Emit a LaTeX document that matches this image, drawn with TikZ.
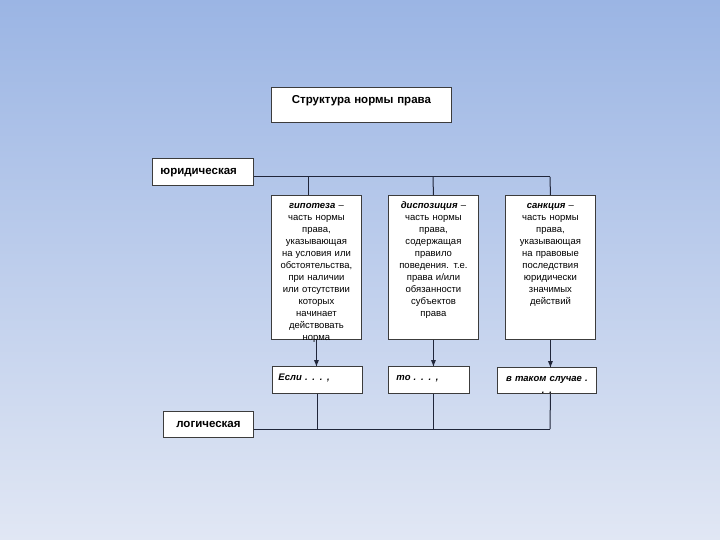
\documentclass[tikz,border=0pt]{standalone}
\usepackage{fontspec}
\setmainfont{Liberation Sans}
\definecolor{bgtop}{HTML}{9BB5E4}
\definecolor{bgmid}{HTML}{BDCDEB}
\definecolor{bgbot}{HTML}{E1E7F4}
\definecolor{boxgray}{HTML}{3C3C3C}
\definecolor{linedark}{HTML}{20263A}
\begin{document}
\begin{tikzpicture}[x=1pt,y=1pt]
\tikzstyle{every node}+=[inner sep=0pt, font=\fontsize{9.5}{12}\selectfont]
\tikzstyle{box}=[draw=boxgray, fill=white, line width=0.9pt, anchor=north west]
\tikzstyle{tallbox}=[box, text width=84, inner xsep=3, align=center, text height=13, text depth=131]
\tikzstyle{label}=[box, font=\fontsize{11.5}{12}\selectfont\bfseries]
\tikzstyle{wire}=[linedark, line width=1pt]
\useasboundingbox (0,0) rectangle (720,-540);
\shade [top color=bgtop, middle color=bgmid, bottom color=bgbot] (0,0) rectangle (720,-540);
% upper level
\node [label, text width=180, align=center, text height=16, text depth=19] (title) at (271,-87) {Структура нормы права};
\node [label, text width=85, inner xsep=8, align=left, text height=16, text depth=11] (yur) at (152,-158) {юридическая};
\node [tallbox] (hyp) at (271,-195) {\textbf{\textit{гипотеза}} –\\часть нормы\\права,\\указывающая\\на условия или\\обстоятельства,\\при наличии\\или отсутствии\\которых\\начинает\\действовать\\норма};
\node [tallbox] (dis) at (388,-195) {\textbf{\textit{диспозиция}} –\\часть нормы\\права,\\содержащая\\правило\\поведения. т.е.\\права и/или\\обязанности\\субъектов\\права};
\node [tallbox] (san) at (505,-195) {\textbf{\textit{санкция}} –\\часть нормы\\права,\\указывающая\\на правовые\\последствия\\юридически\\значимых\\действий};
% lower level
\node [box, text width=78, inner xsep=6, align=left, text height=14, text depth=13, font=\fontsize{9.5}{12}\selectfont\bfseries\itshape] (esli) at (272,-366) {Если . . . ,};
\node [box, text width=65, inner xsep=8, align=left, text height=14, text depth=13, font=\fontsize{9.5}{12}\selectfont\bfseries\itshape] (to) at (388,-366) {то . . . ,};
\node [box, text width=99, align=center, text height=14, text depth=12, font=\fontsize{9.5}{12}\selectfont\bfseries\itshape] (sl) at (497,-367) {в таком случае .\\. .};
\node [label, text width=90, align=center, text height=16, text depth=10] (log) at (163,-411) {логическая};
% top bus
\coordinate (j1) at (308,-177);
\coordinate (j2) at (433,-177);
\coordinate (j3) at (550,-177);
\draw [wire] (yur.east |- j1) -- (j3);
\draw [wire] (j1) -- (j1 |- hyp.north);
\draw [wire] (j2) -- (dis.north);
\draw [wire] (j3) -- (san.north);
% arrows down
\draw [wire] (hyp.south) -- (hyp.south |- esli.north);
\fill [linedark] (hyp.south |- esli.north) -- ++(-2.5,6) -- ++(5,0) -- cycle;
\draw [wire] (dis.south) -- (dis.south |- to.north);
\fill [linedark] (dis.south |- to.north) -- ++(-2.5,6) -- ++(5,0) -- cycle;
\draw [wire] (san.south) -- (san.south |- sl.north);
\fill [linedark] (san.south |- sl.north) -- ++(-2.5,6) -- ++(5,0) -- cycle;
% bottom bus
\coordinate (k3) at (550,-429);
\draw [wire] (log.east |- k3) -- (k3);
\draw [wire] (esli.south) -- (esli.south |- k3);
\draw [wire] (dis.south |- to.south) -- (dis.south |- k3);
\draw [wire] (san.south |- sl.south) -- (k3);
\end{tikzpicture}
\end{document}
